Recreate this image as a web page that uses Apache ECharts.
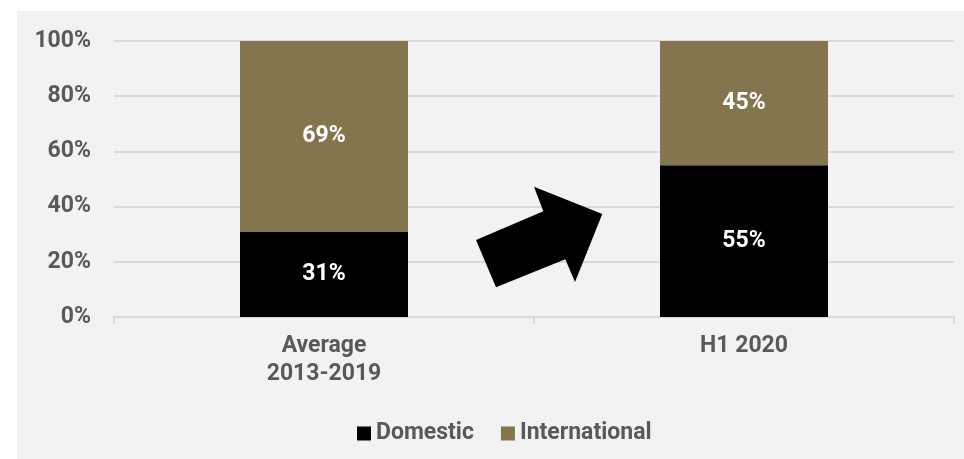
<!DOCTYPE html>
<html>
<head>
<meta charset="utf-8">
<script src="https://cdn.jsdelivr.net/npm/echarts@6/dist/echarts.min.js"></script>
<style>
html,body{margin:0;padding:0;background:#ffffff;width:964px;height:459px;overflow:hidden;}
#chart{position:absolute;left:17px;top:11px;width:947px;height:448px;background:#f2f2f2;}
</style>
</head>
<body>
<div id="chart"></div>
<script>
const categories = ['Average\n2013-2019', 'H1 2020'];
const domestic = [31, 55];
const international = [69, 45];
const yTicks = [0, 20, 40, 60, 80, 100];

const chart = echarts.init(document.getElementById('chart'), null, {renderer: 'canvas'});
const txt = '#595959';
const font = 'Roboto';
const fs = 23;
chart.setOption({
  animation: false,
  backgroundColor: '#f2f2f2',
  grid: {left: 97, right: 10, top: 30, bottom: 142, containLabel: false},
  legend: {
    left: 335, top: 406,
    itemWidth: 14, itemHeight: 14, itemGap: 27,
    icon: 'rect',
    textStyle: {color: txt, fontFamily: font, fontWeight: 'bold', fontSize: fs},
    data: ['Domestic', 'International']
  },
  xAxis: {
    type: 'category',
    data: categories,
    axisLine: {lineStyle: {color: '#d9d9d9', width: 2}},
    axisTick: {show: true, alignWithLabel: false, length: 7, lineStyle: {color: '#d9d9d9', width: 2}},
    axisLabel: {color: txt, fontFamily: font, fontWeight: 'bold', fontSize: fs, lineHeight: 28, margin: 15}
  },
  yAxis: {
    type: 'value',
    min: 0, max: 100, interval: 20,
    axisLine: {show: false},
    axisTick: {show: false},
    splitLine: {lineStyle: {color: '#d9d9d9', width: 2}},
    axisLabel: {color: txt, fontFamily: font, fontWeight: 'bold', fontSize: fs, margin: 23,
      formatter: v => yTicks.includes(v) ? v + '%' : ''}
  },
  series: [
    {
      name: 'Domestic', type: 'bar', stack: 'a', barWidth: '40%',
      itemStyle: {color: '#000000'},
      label: {show: true, position: 'inside', color: '#ffffff', fontFamily: font, fontWeight: 'bold', fontSize: fs, formatter: '{c}%'},
      data: domestic
    },
    {
      name: 'International', type: 'bar', stack: 'a', barWidth: '40%',
      itemStyle: {color: '#85754e'},
      label: {show: true, position: 'inside', color: '#ffffff', fontFamily: font, fontWeight: 'bold', fontSize: fs, formatter: '{c}%'},
      data: international
    }
  ],
  graphic: [{
    type: 'polygon',
    z: 100,
    shape: {points: [[459,229],[479,276.3],[548.3,248.3],[558,271],[585.3,203],[517,175.7],[526.3,200.3]]},
    style: {fill: '#000000'}
  }]
});
</script>
</body>
</html>
